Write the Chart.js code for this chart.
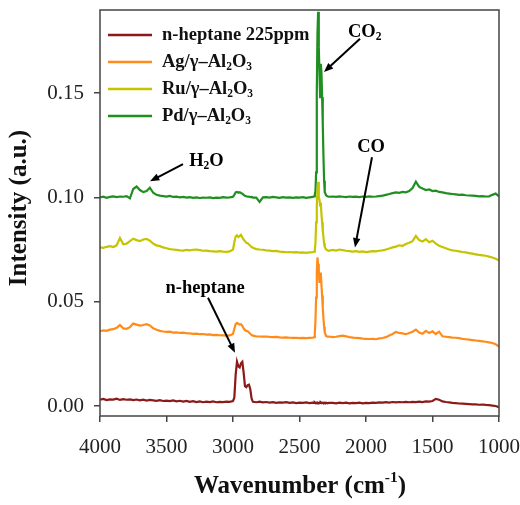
<!DOCTYPE html>
<html>
<head>
<meta charset="utf-8">
<script src="https://cdn.jsdelivr.net/npm/chart.js@4.4.1/dist/chart.umd.min.js"></script>
<style>
  html, body { margin: 0; padding: 0; background: #fff; }
</style>
</head>
<body>
<canvas id="chart" width="520" height="505"></canvas>
<script>
// wavenumber grid (cm-1), denser around the peaks
const wavenumber = [
  4000,3975,3950,3925,3900,3875,3850,3825,3800,3775,3750,3725,3700,3675,3650,3625,3600,3575,3550,3525,
  3500,3475,3450,3425,3400,3375,3350,3325,3300,3275,3250,3225,3200,3175,3150,3125,3100,3075,3050,3025,3000,
  2990,2980,2970,2960,2950,2940,2930,2920,2910,2900,2890,2880,2870,2860,2850,
  2825,2800,2775,2750,2725,2700,2675,2650,2625,2600,2575,2550,2525,2500,2475,2450,2425,2400,
  2390,2385,2380,2375,2370,2365,2360,2355,2350,2345,2340,2335,2330,2325,2320,2315,2310,2300,2290,2280,
  2250,2225,2200,2175,2150,2125,2100,2075,2050,2025,2000,1975,1950,1925,1900,1875,1850,1825,1800,1775,
  1750,1725,1700,1675,1650,1625,1600,1575,1550,1525,1500,1475,1450,1425,1400,1375,1350,1325,1300,1275,
  1250,1225,1200,1175,1150,1125,1100,1075,1050,1025,1000
];

const heptane = [
  0.0030,0.0034,0.0028,0.0032,0.0031,0.0035,0.0029,0.0033,0.0030,0.0032,0.0028,0.0031,0.0027,0.0030,0.0026,0.0029,0.0027,0.0025,0.0028,0.0024,
  0.0026,0.0023,0.0027,0.0022,0.0025,0.0021,0.0024,0.0020,0.0023,0.0019,0.0022,0.0018,0.0021,0.0019,0.0022,0.0018,0.0020,0.0019,0.0021,0.0020,0.0024,
  0.0040,0.0150,0.0212,0.0190,0.0185,0.0205,0.0212,0.0160,0.0095,0.0090,0.0100,0.0102,0.0080,0.0035,0.0020,
  0.0018,0.0021,0.0017,0.0019,0.0016,0.0018,0.0015,0.0017,0.0016,0.0018,0.0015,0.0017,0.0014,0.0016,0.0015,0.0017,0.0014,0.0016,
  0.0015,0.0017,0.0014,0.0016,0.0015,0.0017,0.0015,0.0014,0.0016,0.0015,0.0017,0.0014,0.0016,0.0015,0.0013,0.0016,0.0014,0.0016,0.0013,0.0015,
  0.0015,0.0013,0.0016,0.0014,0.0016,0.0013,0.0015,0.0014,0.0016,0.0013,0.0015,0.0014,0.0016,0.0015,0.0017,0.0016,0.0018,0.0016,0.0019,0.0017,
  0.0019,0.0018,0.0020,0.0018,0.0020,0.0019,0.0021,0.0019,0.0022,0.0021,0.0024,0.0034,0.0030,0.0022,0.0019,0.0017,0.0015,0.0014,0.0012,0.0011,
  0.0010,0.0009,0.0008,0.0008,0.0006,0.0007,0.0005,0.0004,0.0002,0.0000,-0.0006
];

const agAl2O3 = [
  0.0358,0.0362,0.0360,0.0366,0.0368,0.0375,0.0388,0.0372,0.0370,0.0378,0.0395,0.0390,0.0385,0.0388,0.0392,0.0386,0.0372,0.0365,0.0360,0.0357,
  0.0355,0.0356,0.0352,0.0353,0.0350,0.0352,0.0349,0.0348,0.0346,0.0347,0.0344,0.0345,0.0342,0.0343,0.0340,0.0341,0.0339,0.0338,0.0337,0.0338,0.0345,
  0.0370,0.0392,0.0398,0.0394,0.0390,0.0392,0.0384,0.0372,0.0364,0.0360,0.0358,0.0352,0.0346,0.0340,0.0337,
  0.0334,0.0333,0.0332,0.0333,0.0331,0.0330,0.0331,0.0329,0.0328,0.0329,0.0327,0.0326,0.0327,0.0325,0.0326,0.0325,0.0326,0.0327,
  0.0330,0.0345,0.0410,0.0520,0.0640,0.0712,0.0680,0.0650,0.0590,0.0620,0.0640,0.0580,0.0530,0.0470,0.0420,0.0380,0.0352,0.0336,0.0332,0.0333,
  0.0330,0.0332,0.0335,0.0337,0.0334,0.0330,0.0328,0.0326,0.0325,0.0323,0.0322,0.0321,0.0322,0.0320,0.0324,0.0326,0.0330,0.0338,0.0345,0.0355,
  0.0350,0.0348,0.0344,0.0350,0.0356,0.0366,0.0352,0.0346,0.0360,0.0350,0.0358,0.0345,0.0356,0.0334,0.0332,0.0330,0.0328,0.0327,0.0325,0.0322,
  0.0320,0.0318,0.0316,0.0314,0.0312,0.0310,0.0308,0.0305,0.0302,0.0296,0.0285
];

const ruAl2O3 = [
  0.0760,0.0758,0.0763,0.0766,0.0762,0.0770,0.0805,0.0775,0.0778,0.0790,0.0802,0.0795,0.0790,0.0798,0.0801,0.0792,0.0778,0.0770,0.0766,0.0760,
  0.0756,0.0752,0.0750,0.0748,0.0746,0.0745,0.0748,0.0746,0.0749,0.0750,0.0747,0.0744,0.0745,0.0742,0.0741,0.0740,0.0742,0.0740,0.0739,0.0741,0.0750,
  0.0785,0.0812,0.0818,0.0810,0.0814,0.0820,0.0808,0.0798,0.0790,0.0782,0.0780,0.0774,0.0768,0.0762,0.0758,
  0.0752,0.0750,0.0749,0.0746,0.0745,0.0742,0.0743,0.0740,0.0739,0.0737,0.0738,0.0736,0.0737,0.0735,0.0736,0.0734,0.0736,0.0737,
  0.0740,0.0748,0.0780,0.0880,0.0960,0.1030,0.1075,0.1000,0.0990,0.0960,0.0975,0.0920,0.0880,0.0840,0.0810,0.0780,0.0762,0.0750,0.0746,0.0744,
  0.0748,0.0745,0.0750,0.0747,0.0744,0.0742,0.0740,0.0742,0.0739,0.0741,0.0738,0.0740,0.0742,0.0741,0.0744,0.0746,0.0750,0.0755,0.0760,0.0764,
  0.0770,0.0768,0.0776,0.0782,0.0790,0.0815,0.0795,0.0788,0.0800,0.0785,0.0792,0.0778,0.0768,0.0762,0.0756,0.0750,0.0746,0.0744,0.0741,0.0738,
  0.0736,0.0733,0.0730,0.0727,0.0724,0.0722,0.0720,0.0716,0.0712,0.0706,0.0698
];

const pdAl2O3 = [
  0.1000,0.1003,0.0998,0.1002,0.1005,0.1001,0.1004,0.1003,0.1006,0.0995,0.1040,0.1052,0.1035,0.1025,0.1030,0.1046,0.1022,0.1012,0.1008,0.1006,
  0.1004,0.1007,0.1002,0.1003,0.1000,0.1002,0.0999,0.1001,0.0998,0.1000,0.0997,0.0999,0.0998,0.1000,0.0996,0.0999,0.0998,0.1001,0.0999,0.1000,0.1003,
  0.1012,0.1024,0.1026,0.1022,0.1025,0.1021,0.1018,0.1012,0.1008,0.1005,0.1003,0.1004,0.1001,0.1002,0.0999,
  0.0999,0.0978,0.1000,0.1001,0.0999,0.1002,0.1000,0.0998,0.1001,0.0999,0.1000,0.0998,0.1000,0.0999,0.1001,0.0998,0.1000,0.1002,
  0.1005,0.1012,0.1030,0.1120,0.1500,0.1780,0.1890,0.1720,0.1600,0.1480,0.1640,0.1600,0.1480,0.1350,0.1200,0.1080,0.1025,0.1010,0.1005,0.1003,
  0.1004,0.1002,0.1005,0.1003,0.1001,0.1004,0.1002,0.1003,0.1001,0.1004,0.1002,0.1005,0.1003,0.1004,0.1006,0.1008,0.1012,0.1016,0.1020,0.1024,
  0.1022,0.1026,0.1024,0.1030,0.1045,0.1075,0.1050,0.1042,0.1035,0.1038,0.1030,0.1032,0.1026,0.1024,0.1020,0.1018,0.1016,0.1014,0.1012,0.1013,
  0.1010,0.1009,0.1008,0.1007,0.1005,0.1006,0.1004,0.1005,0.1012,0.1018,0.1005
];

const seriesNames = ['n-heptane 225ppm', 'Ag/γ–Al₂O₃', 'Ru/γ–Al₂O₃', 'Pd/γ–Al₂O₃'];
const seriesColors = ['#8b1a1a', '#ff8c1a', '#c4c400', '#1f8f1f'];
const xTicks = [4000, 3500, 3000, 2500, 2000, 1500, 1000];
const yTicks = [0.00, 0.05, 0.10, 0.15];

const SERIF = '"Liberation Serif", "Times New Roman", serif';

// legend rows, with sub/superscripts split out
const legendParts = [
  [['n-heptane 225ppm']],
  [['Ag/γ–Al'], ['2', 'sub'], ['O'], ['3', 'sub']],
  [['Ru/γ–Al'], ['2', 'sub'], ['O'], ['3', 'sub']],
  [['Pd/γ–Al'], ['2', 'sub'], ['O'], ['3', 'sub']]
];

// peak labels: text position and arrow, in data units
const notes = [
  { parts: [['CO'], ['2', 'sub']], at: [2010, 0.1793], from: [2045, 0.1760], to: [2316, 0.1601] },
  { parts: [['H'], ['2', 'sub'], ['O']], at: [3200, 0.1173], from: [3376, 0.1159], to: [3624, 0.1077] },
  { parts: [['CO']], at: [1962, 0.1240], from: [1955, 0.1192], to: [2083, 0.0760] },
  { parts: [['n-heptane']], at: [3210, 0.0563], from: [3188, 0.0519], to: [2985, 0.0255] }
];

function drawRich(ctx, parts, x, y, size, bold, align) {
  const fontFor = s => (bold ? 'bold ' : '') + s + 'px ' + SERIF;
  let w = 0;
  parts.forEach(p => {
    ctx.font = fontFor(p[1] ? size * 0.62 : size);
    w += ctx.measureText(p[0]).width;
  });
  let cx = align === 'center' ? x - w / 2 : x;
  ctx.textAlign = 'left';
  ctx.textBaseline = 'middle';
  parts.forEach(p => {
    const s = p[1] ? size * 0.62 : size;
    ctx.font = fontFor(s);
    const dy = p[1] === 'sub' ? size * 0.28 : (p[1] === 'sup' ? -size * 0.36 : 0);
    ctx.fillText(p[0], cx, y + dy);
    cx += ctx.measureText(p[0]).width;
  });
}

function drawArrow(ctx, x1, y1, x2, y2) {
  const ang = Math.atan2(y2 - y1, x2 - x1);
  const head = 10;
  ctx.beginPath();
  ctx.moveTo(x1, y1);
  ctx.lineTo(x2 - Math.cos(ang) * head * 0.8, y2 - Math.sin(ang) * head * 0.8);
  ctx.stroke();
  ctx.beginPath();
  ctx.moveTo(x2, y2);
  ctx.lineTo(x2 - head * Math.cos(ang - 0.38), y2 - head * Math.sin(ang - 0.38));
  ctx.lineTo(x2 - head * Math.cos(ang + 0.38), y2 - head * Math.sin(ang + 0.38));
  ctx.closePath();
  ctx.fill();
}

const decorations = {
  id: 'decorations',
  afterDraw(chart) {
    const { ctx, chartArea: a, scales: { x, y } } = chart;
    ctx.save();

    // plot frame
    ctx.strokeStyle = '#444';
    ctx.lineWidth = 1.5;
    ctx.strokeRect(a.left, a.top, a.right - a.left, a.bottom - a.top);

    // legend inside plot
    legendParts.forEach((parts, i) => {
      const ly = a.top + 25 + i * 27;
      ctx.strokeStyle = seriesColors[i];
      ctx.lineWidth = 2.5;
      ctx.beginPath();
      ctx.moveTo(a.left + 8, ly);
      ctx.lineTo(a.left + 52, ly);
      ctx.stroke();
      ctx.fillStyle = '#111';
      drawRich(ctx, parts, a.left + 62, ly, 18.5, true, 'left');
    });

    // peak annotations
    ctx.strokeStyle = '#000';
    ctx.fillStyle = '#000';
    ctx.lineWidth = 2;
    notes.forEach(n => {
      drawArrow(ctx,
        x.getPixelForValue(n.from[0]), y.getPixelForValue(n.from[1]),
        x.getPixelForValue(n.to[0]), y.getPixelForValue(n.to[1]));
      drawRich(ctx, n.parts, x.getPixelForValue(n.at[0]), y.getPixelForValue(n.at[1]), 18.5, true, 'center');
    });

    // axis titles
    ctx.fillStyle = '#111';
    drawRich(ctx, [['Wavenumber (cm'], ['-1', 'sup'], [')']], 300, 487, 25, true, 'center');
    ctx.translate(20, 208);
    ctx.rotate(-Math.PI / 2);
    drawRich(ctx, [['Intensity (a.u.)']], 0, 0, 25, true, 'center');
    ctx.restore();
  }
};

const datasets = [heptane, agAl2O3, ruAl2O3, pdAl2O3].map((vals, i) => ({
  label: seriesNames[i],
  data: wavenumber.map((w, j) => ({ x: w, y: vals[j] })),
  borderColor: seriesColors[i],
  borderWidth: 2.2,
  pointRadius: 0,
  tension: 0,
  fill: false
}));

new Chart(document.getElementById('chart').getContext('2d'), {
  type: 'line',
  data: { datasets },
  options: {
    responsive: false,
    animation: false,
    layout: { padding: { top: 10, right: 21, left: 0, bottom: 0 } },
    plugins: { legend: { display: false }, tooltip: { enabled: false } },
    scales: {
      x: {
        type: 'linear',
        reverse: true,
        min: 1000,
        max: 4000,
        afterBuildTicks: s => { s.ticks = xTicks.map(v => ({ value: v })); },
        afterFit: s => { s.height = 89; s.paddingLeft = 0; s.paddingRight = 0; },
        border: { display: false },
        grid: { drawOnChartArea: false, drawTicks: true, tickLength: 6, color: '#444', lineWidth: 1.5 },
        ticks: { font: { family: SERIF, size: 21 }, color: '#222', padding: 13, maxRotation: 0, callback: v => String(v) }
      },
      y: {
        type: 'linear',
        min: -0.0048,
        max: 0.1898,
        afterBuildTicks: s => { s.ticks = yTicks.map(v => ({ value: v })); },
        afterFit: s => { s.width = 100; s.paddingTop = 0; s.paddingBottom = 0; },
        border: { display: false },
        grid: { drawOnChartArea: false, drawTicks: true, tickLength: 6, color: '#444', lineWidth: 1.5 },
        ticks: { font: { family: SERIF, size: 21 }, color: '#222', padding: 10, callback: v => v.toFixed(2) }
      }
    }
  },
  plugins: [decorations]
});
</script>
</body>
</html>
